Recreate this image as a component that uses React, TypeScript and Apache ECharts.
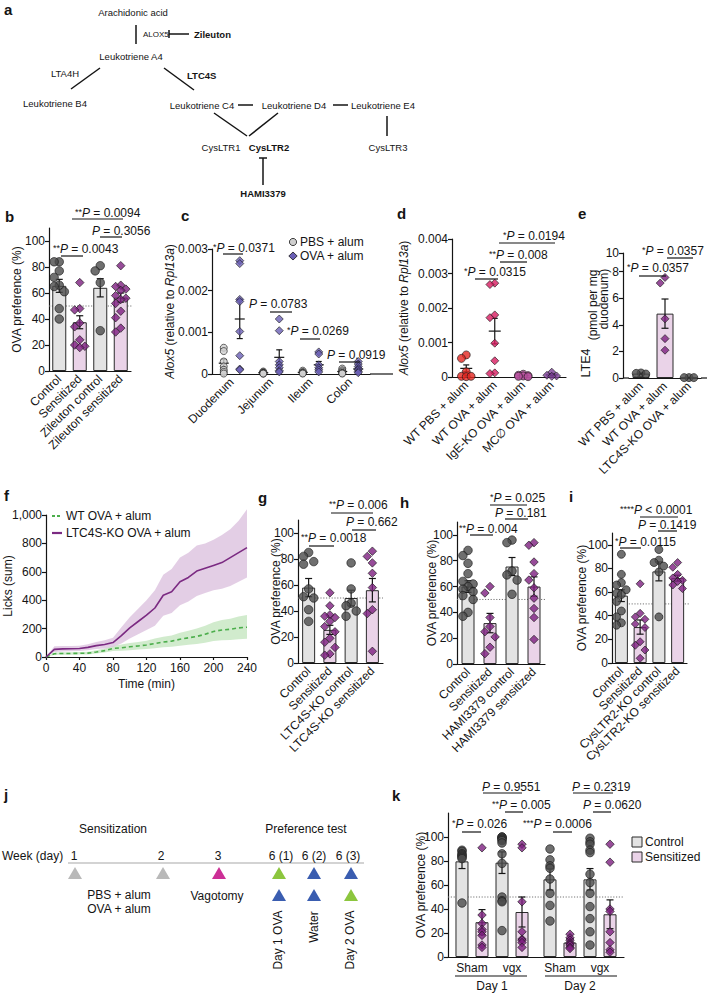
import React, { useEffect, useRef } from 'react';
import * as echarts from 'echarts';

const FONT = '"Liberation Sans", Arial, Helvetica, sans-serif';
const INK = '#141414';
const CTRL_BAR = '#e3e3e3';
const SENS_BAR = '#ead3e8';
const GRAY_DOT = '#4b4b4b';
const PURPLE_DOT = '#7d1f80';
const DOT_EDGE = '#161616';

// ---------- panel b ----------
const bCategories = ['Control', 'Sensitized', 'Zileuton control', 'Zileuton sensitized'];
const bMeans = [65.5, 37.5, 64, 56.5];
const bSem = [5, 5, 7, 3.5];
const bControl = [84, 84, 77, 72, 66, 65, 61, 48, 40];
const bSensitized = [68, 48, 47, 37, 34, 24, 20, 19, 18];
const bZileutonControl = [81, 77, 68, 31];
const bZileutonSensitized = [81, 66, 65, 63, 62, 58, 56, 55, 52, 46, 41, 33, 30];
const prefTicks = [0, 20, 40, 60, 80, 100];

// ---------- panel c ----------
const cCategories = ['Duodenum', 'Jejunum', 'Ileum', 'Colon'];
const cTicks = [0, 0.001, 0.002, 0.003];
const cPbsMeans = [0.00026, 0.00003, 0.00004, 0.00006];
const cPbsSem = [0.00009, 0.00001, 0.00001, 0.00002];
const cOvaMeans = [0.00132, 0.0004, 0.00022, 0.00012];
const cOvaSem = [0.00047, 0.00018, 0.00008, 0.00004];
const cPbsPoints = [
  [0.00063, 0.00055, 0.0003, 0.00018, 0.0001, 0.00005, 0.00001],
  [0.00006, 0.00004, 0.00003, 0.00002, 0.00001, 0.00001],
  [0.00008, 0.00005, 0.00003, 0.00002, 0.00001],
  [0.00013, 0.00009, 0.00006, 0.00003, 0.00002, 0.00001],
];
const cOvaPoints = [
  [0.00272, 0.00265, 0.00179, 0.00174, 0.00102, 0.00044, 0.00012, 0.0001],
  [0.00132, 0.00104, 0.0003, 0.00022, 0.00015, 0.00008, 0.00005],
  [0.00053, 0.00048, 0.00022, 0.00015, 0.0001, 0.00005],
  [0.0003, 0.00024, 0.00018, 0.00013, 0.0001, 0.00006, 0.00003],
];

// ---------- panel d ----------
const dCategories = ['WT PBS + alum', 'WT OVA + alum', 'IgE-KO OVA + alum', 'MC\u2205 OVA + alum'];
const dTicks = [0, 0.001, 0.002, 0.003, 0.004];
const dMeans = [0.00025, 0.00133, 0.00004, 0.00006];
const dSem = [0.0001, 0.00037, 0.00001, 0.00003];
const dPoints = [
  [0.00064, 0.00054, 0.00015, 0.00002, 0.00001, 0.00002],
  [0.00272, 0.00268, 0.0018, 0.00172, 0.00098, 0.00047, 0.00012, 0.0001],
  [0.00008, 0.00005, 0.00004, 0.00003, 0.00002, 0.00001],
  [0.00014, 0.00005, 0.00003, 0.00002],
];

// ---------- panel e ----------
const eCategories = ['WT PBS + alum', 'WT OVA + alum', 'LTC4S-KO OVA + alum'];
const eTicks = [0, 2, 4, 6, 8, 9.4];
const eTickLabels = ['0', '2', '4', '6', '8', '10'];
const eMeans = [0.33, 4.84, 0.03];
const eSem = [0.03, 1.1, 0.01];
const ePoints = [[0.38, 0.35, 0.3], [7.56, 7.14, 4.45, 2.96, 2.09], [0.03, 0.03, 0.03]];

// ---------- panel f ----------
const fTime = [0, 10, 20, 30, 40, 50, 60, 70, 80, 90, 100, 110, 120, 130, 140, 150, 160, 170, 180, 190, 200, 210, 220, 230, 240];
const fKoMean = [0, 54, 57, 58, 60, 68, 80, 88, 102, 150, 205, 250, 295, 345, 435, 460, 530, 560, 605, 625, 645, 665, 700, 735, 770];
const fKoLow = [0, 35, 38, 40, 42, 48, 56, 60, 70, 95, 130, 160, 190, 220, 290, 310, 365, 390, 430, 450, 470, 480, 500, 530, 560];
const fKoHigh = [0, 75, 78, 78, 80, 90, 105, 118, 135, 210, 280, 340, 400, 470, 580, 620, 700, 735, 785, 800, 825, 860, 900, 960, 1040];
const fWtMean = [0, 23, 25, 25, 26, 27, 35, 45, 60, 65, 72, 78, 85, 95, 105, 112, 125, 135, 145, 160, 180, 190, 195, 205, 210];
const fWtLow = [0, 15, 16, 16, 17, 18, 24, 32, 42, 44, 48, 52, 56, 62, 68, 72, 80, 86, 92, 100, 112, 118, 120, 125, 128];
const fWtHigh = [0, 32, 34, 34, 35, 37, 47, 60, 80, 88, 98, 106, 115, 130, 142, 152, 170, 185, 200, 220, 245, 260, 270, 285, 295];
const fTicks = [0, 200, 400, 600, 800, 1000];

// ---------- panel g ----------
const gCategories = ['Control', 'Sensitized', 'LTC4S-KO control', 'LTC4S-KO sensitized'];
const gMeans = [58, 25.5, 50, 56];
const gSem = [7, 3.5, 6, 9];
const gControl = [85, 82, 78, 76, 57, 51, 50, 41, 32];
const gSensitized = [54, 44, 37, 36, 35, 32, 28, 24, 19, 16, 12, 7, 6];
const gKoControl = [77, 57, 46, 44, 40, 36];
const gKoSensitized = [86, 82, 77, 69, 58, 41, 38, 9];

// ---------- panel h ----------
const hCategories = ['Control', 'Sensitized', 'HAMI3379 control', 'HAMI3379 sensitized'];
const hMeans = [60, 31.7, 75.5, 60];
const hSem = [4.5, 7.5, 7, 7.5];
const hControl = [88, 84, 78, 70, 64, 62, 60, 58, 56, 53, 50, 40, 37];
const hSensitized = [60, 55, 36, 29, 25, 21, 13, 8];
const hHamiControl = [96, 94, 72, 69, 65, 54];
const hHamiSensitized = [94, 92, 79, 70, 65, 59, 51, 43, 36, 19];

// ---------- panel i ----------
const iCategories = ['Control', 'Sensitized', 'CysLTR2-KO control', 'CysLTR2-KO sensitized'];
const iMeans = [57, 30.4, 77.5, 71.8];
const iSem = [5, 6, 8, 2.5];
const iControl = [92, 75, 68, 66, 62, 59, 58, 52, 44, 39, 34, 32];
const iSensitized = [67, 42, 39, 37, 33, 30, 18, 15, 11, 4];
const iKoControl = [96, 87, 85, 82, 77, 39];
const iKoSensitized = [85, 81, 75, 72, 70, 69, 66, 63];

// ---------- panel k ----------
const kDays = ['Day 1', 'Day 2'];
const kGroups = ['Sham', 'vgx'];
const kTicks = [0, 20, 40, 60, 80, 100];
const kShamCtrlMeans = [79.7, 64.7];
const kShamCtrlSem = [6, 9];
const kShamSensMeans = [29, 12];
const kShamSensSem = [10.5, 3];
const kVgxCtrlMeans = [78.6, 64.7];
const kVgxCtrlSem = [9, 9];
const kVgxSensMeans = [37.5, 35.6];
const kVgxSensSem = [12.5, 12];
const kShamCtrlPts = [[89, 88, 86, 85, 84, 83, 82, 45], [90, 81, 76, 74, 65, 53, 43, 30]];
const kShamSensPts = [[91, 35, 28, 23, 21, 18, 10, 8], [19, 16, 14, 12, 11, 10, 8, 7]];
const kVgxCtrlPts = [[100, 100, 99, 98, 97, 95, 86, 78, 50, 47, 46, 22], [99, 96, 94, 89, 87, 69, 62, 53, 42, 32, 21, 10]];
const kVgxSensPts = [[94, 91, 46, 21, 15, 14, 12, 8], [94, 79, 40, 38, 21, 12, 6, 4]];

// ---------- significance annotations: stars, rest, textX, textY, lineX1, lineX2, lineY ----------
const annotations: any[] = [
  ['**', ' = 0.0094', 75, 213, 72, 123, 219],
  ['', ' = 0.3056', 92, 231, 100, 122, 237],
  ['**', ' = 0.0043', 53, 249, 61, 83, 256],
  ['*', ' = 0.0371', 213, 248, 223, 243, 254],
  ['', ' = 0.0783', 249, 304, 270, 292, 312],
  ['*', ' = 0.0269', 287, 331, 300, 320, 339],
  ['', ' = 0.0919', 327, 355, 339, 360, 362],
  ['*', ' = 0.0194', 503, 236, 499, 555, 243],
  ['**', ' = 0.008', 489, 255, 500, 527, 262],
  ['*', ' = 0.0315', 464, 272, 475, 498, 279],
  ['*', ' = 0.0357', 642, 251, 667, 693, 258],
  ['*', ' = 0.0357', 627, 268, 639, 666, 276],
  ['**', ' = 0.006', 329, 505, 331, 373, 513],
  ['', ' = 0.662', 346, 522, 352, 376, 530],
  ['**', ' = 0.0018', 301, 538, 309, 334, 546],
  ['*', ' = 0.025', 490, 498, 490, 527, 505],
  ['', ' = 0.181', 495, 513, 505, 528, 519],
  ['**', ' = 0.004', 459, 529, 470, 493, 535],
  ['****', ' < 0.0001', 620, 510, 640, 678, 517],
  ['', ' = 0.1419', 638, 525, 658, 677, 531],
  ['*', ' = 0.0115', 615, 542, 620, 641, 548],
  ['', ' = 0.9551', 482, 787, 483, 522, 793],
  ['**', ' = 0.005', 492, 805, 505, 523, 812],
  ['*', ' = 0.026', 452, 824, 462, 481, 832],
  ['***', ' = 0.0006', 523, 824, 553, 572, 832],
  ['', ' = 0.2319', 572, 787, 573, 613, 793],
  ['', ' = 0.0620', 583, 805, 593, 611, 812],
];

// ---------- panel j timeline ----------
const jWeekLabels = ['1', '2', '3', '6 (1)', '6 (2)', '6 (3)'];
const jWeekX = [74, 161, 218, 281, 314, 348];
const jTopTriangles: any[] = [['#b9b9b9', 75], ['#b9b9b9', 163], ['#cc2f96', 219], ['#8cc63e', 279], ['#3a5db0', 314], ['#3a5db0', 351]];
const jBottomTriangles: any[] = [['#3a5db0', 279], ['#3a5db0', 314], ['#8cc63e', 351]];

function swarm(vals: number[], ppu: number, size: number, maxOff: number): number[] {
  const order = vals.map((_, i) => i).sort((a, b) => vals[b] - vals[a]);
  const placed: number[][] = [];
  const out: number[] = vals.map(() => 0);
  const step = size * 0.6;
  const minD = size * 0.92;
  for (const i of order) {
    const y = vals[i] * ppu;
    let bestX = 0;
    let bestD = -1;
    for (let k = 0; k < 20; k++) {
      const mag = Math.ceil(k / 2) * step;
      if (mag > maxOff) break;
      const c = k === 0 ? 0 : k % 2 === 1 ? -mag : mag;
      let d = Infinity;
      for (const p of placed) d = Math.min(d, Math.hypot(p[0] - c, p[1] - y));
      if (d >= minD) { bestX = c; bestD = d; break; }
      if (d > bestD) { bestD = d; bestX = c; }
    }
    out[i] = bestX;
    placed.push([bestX, y]);
  }
  return out;
}

function buildOption() {
  const grid: any[] = [];
  const xAxis: any[] = [];
  const yAxis: any[] = [];
  const series: any[] = [];
  const graphic: any[] = [];
  const axisLineStyle = { color: INK, width: 1.2 };
  const tickText = { fontSize: 12, color: INK, fontFamily: FONT };

  const txt = (text: string, x: number, y: number, o: any = {}) => ({
    type: 'text', x, y, z: 20, silent: true,
    style: { text, fill: INK, fontFamily: FONT, fontSize: 12, align: 'left', verticalAlign: 'middle', ...o },
  });
  const seg = (x1: number, y1: number, x2: number, y2: number, o: any = {}) => ({
    type: 'line', z: 20, silent: true, shape: { x1, y1, x2, y2 }, style: { stroke: INK, lineWidth: 1.2, ...o },
  });

  const addGrid = (g: any) => { grid.push({ ...g, containLabel: false, outerBoundsMode: 'none' }); return grid.length - 1; };
  const catAxis = (gi: number, cats: string[], labelExtra: any = {}) => {
    xAxis.push({
      gridIndex: gi, type: 'category', data: cats, boundaryGap: true,
      axisLine: { show: true, lineStyle: axisLineStyle }, axisTick: { show: false },
      axisLabel: { interval: 0, rotate: 45, margin: 6, ...tickText, ...labelExtra },
      splitLine: { show: false },
    });
  };
  const valAxis = (gi: number, max: number, ticks: number[], name: string, nameGap: number, o: any = {}) => {
    yAxis.push({
      gridIndex: gi, type: 'value', min: 0, max, offset: o.offset || 0,
      axisLine: { show: true, lineStyle: axisLineStyle },
      axisTick: { show: true, length: 4, customValues: ticks, lineStyle: axisLineStyle },
      axisLabel: { customValues: ticks, margin: 4, ...tickText, formatter: o.formatter },
      splitLine: { show: false },
      name, nameLocation: 'middle', nameGap, nameMoveOverlap: false,
      nameTextStyle: { fontSize: 12, color: INK, fontFamily: FONT, rich: o.rich },
    });
  };
  const addRef = (gi: number, value: number, extend = 0) => {
    series.push({
      type: 'custom', xAxisIndex: gi, yAxisIndex: gi, z: 1, silent: true, clip: false, data: [[0, value]],
      renderItem: (params: any, api: any) => {
        const cs = params.coordSys;
        const y = api.coord([0, api.value(1)])[1];
        return { type: 'line', shape: { x1: cs.x, y1: y, x2: cs.x + cs.width + extend, y2: y }, style: { stroke: '#777', lineWidth: 1, lineDash: [1.2, 1.6] } };
      },
    });
  };
  const addBars = (gi: number, means: number[], fills: string[], barWidth: number, extra: any = {}) => {
    series.push({
      type: 'bar', xAxisIndex: gi, yAxisIndex: gi, barWidth, z: 2, silent: true,
      data: means.map((m, i) => ({ value: m, itemStyle: { color: fills[i], borderColor: '#2b2b2b', borderWidth: 1 } })),
      ...extra,
    });
  };
  const addErr = (gi: number, means: number[], sems: number[], offset: number, cap: number, meanHalf: number) => {
    series.push({
      type: 'custom', xAxisIndex: gi, yAxisIndex: gi, z: 4, silent: true, clip: false,
      data: means.map((m, i) => [i, m, sems[i]]),
      renderItem: (params: any, api: any) => {
        const i = api.value(0), m = api.value(1), s = api.value(2);
        const pm = api.coord([i, m]);
        const ph = api.coord([i, m + s]);
        const pl = api.coord([i, Math.max(0, m - s)]);
        const cx = pm[0] + offset;
        const style = { stroke: INK, lineWidth: 1.2, fill: 'none' };
        const ch: any[] = [
          { type: 'line', shape: { x1: cx, y1: pl[1], x2: cx, y2: ph[1] }, style },
          { type: 'line', shape: { x1: cx - cap, y1: ph[1], x2: cx + cap, y2: ph[1] }, style },
          { type: 'line', shape: { x1: cx - cap, y1: pl[1], x2: cx + cap, y2: pl[1] }, style },
        ];
        if (meanHalf) ch.push({ type: 'line', shape: { x1: cx - meanHalf, y1: pm[1], x2: cx + meanHalf, y2: pm[1] }, style });
        return { type: 'group', children: ch };
      },
    });
  };
  const addDots = (gi: number, pts: number[][], styles: any[], ppu: number, baseOff: number, maxOff: number, size: number) => {
    const data: any[] = [];
    pts.forEach((vals, ci) => {
      const offs = swarm(vals, ppu, size, maxOff);
      const st = styles[ci];
      vals.forEach((v, k) => data.push({
        value: [ci, v], symbol: st.symbol, symbolOffset: [baseOff + offs[k], 0],
        itemStyle: { color: st.color, borderColor: DOT_EDGE, borderWidth: 0.8 },
      }));
    });
    series.push({ type: 'scatter', xAxisIndex: gi, yAxisIndex: gi, symbolSize: size, data, z: 5, silent: true, clip: false });
  };

  const grayC = { symbol: 'circle', color: GRAY_DOT };
  const purpD = { symbol: 'diamond', color: PURPLE_DOT };
  const prefStyles = [grayC, purpD, grayC, purpD];
  const prefFills = [CTRL_BAR, SENS_BAR, CTRL_BAR, SENS_BAR];
  const smallFmt = (v: number) => (v === 0 ? '0' : v.toFixed(3));
  const aloxName = '{i|Alox5} (relative to {i|Rpl13a})';
  const aloxRich = { i: { fontStyle: 'italic', fontSize: 12, color: INK, fontFamily: FONT } };

  // ---- b ----
  {
    const g = { left: 49, top: 228, width: 82, height: 143 };
    const gi = addGrid(g);
    catAxis(gi, bCategories);
    valAxis(gi, 110, prefTicks, 'OVA preference (%)', 26);
    addRef(gi, 50, 2);
    addBars(gi, bMeans, prefFills, 14);
    addErr(gi, bMeans, bSem, 0, 3.5, 0);
    addDots(gi, [bControl, bSensitized, bZileutonControl, bZileutonSensitized], prefStyles, g.height / 110, 0, 6, 8.5);
  }
  // ---- c ----
  {
    const g = { left: 212, top: 249, width: 158, height: 125 };
    const gi = addGrid(g);
    catAxis(gi, cCategories);
    valAxis(gi, 0.003, cTicks, aloxName, 36, { formatter: smallFmt, rich: aloxRich });
    const ppu = g.height / 0.003;
    addErr(gi, cPbsMeans, cPbsSem, -8, 3, 5);
    addErr(gi, cOvaMeans, cOvaSem, 8, 3, 5);
    addDots(gi, cPbsPoints, cCategories.map(() => ({ symbol: 'circle', color: '#cfcfcf' })), ppu, -8, 4, 7);
    addDots(gi, cOvaPoints, cCategories.map(() => ({ symbol: 'diamond', color: '#6a5fb5' })), ppu, 8, 4, 8);
    graphic.push(seg(370, 374, 393, 374));
  }
  // ---- d ----
  {
    const g = { left: 452, top: 239, width: 114, height: 138 };
    const gi = addGrid(g);
    catAxis(gi, dCategories);
    valAxis(gi, 0.004, dTicks, aloxName, 42, { formatter: smallFmt, rich: aloxRich });
    addErr(gi, dMeans, dSem, 0, 3, 6);
    addDots(gi, dPoints, [
      { symbol: 'circle', color: '#e3261f' },
      { symbol: 'diamond', color: '#d81b60' },
      { symbol: 'circle', color: '#b7509e' },
      { symbol: 'diamond', color: '#7a3d96' },
    ], g.height / 0.004, 0, 9, 8);
  }
  // ---- e ----
  {
    const g = { left: 629, top: 253, width: 72, height: 125 };
    const gi = addGrid(g);
    catAxis(gi, eCategories);
    valAxis(gi, 9.4, eTicks, '', 0, { offset: 6, formatter: (v: number) => { const k = eTicks.indexOf(v); return k >= 0 ? eTickLabels[k] : String(v); } });
    addBars(gi, eMeans, [CTRL_BAR, SENS_BAR, CTRL_BAR], 17);
    addErr(gi, eMeans, eSem, 0, 3.5, 0);
    addDots(gi, ePoints, [grayC, purpD, grayC], g.height / 9.4, 0, 7, 8);
    graphic.push(seg(623, 378, 629, 378), seg(701, 378, 707, 378));
    const t1: any = txt('LTE4', 586, 363, { align: 'center', fontSize: 12.5 });
    const t2: any = txt('(pmol per mg', 593, 305, { align: 'center' });
    const t3: any = txt('duodenum)', 604, 299, { align: 'center' });
    t1.rotation = Math.PI / 2;
    t2.rotation = Math.PI / 2;
    t3.rotation = Math.PI / 2;
    graphic.push(t1, t2, t3);
  }
  // ---- f ----
  {
    const gi = addGrid({ left: 46, top: 515, width: 201, height: 142 });
    xAxis.push({
      gridIndex: gi, type: 'category', data: fTime.map(String), boundaryGap: false,
      axisLine: { show: true, lineStyle: axisLineStyle },
      axisTick: { show: true, interval: 3, length: 3, lineStyle: axisLineStyle },
      axisLabel: { interval: 3, margin: 5, ...tickText },
      splitLine: { show: false },
      name: 'Time (min)', nameLocation: 'middle', nameGap: 21, nameMoveOverlap: false,
      nameTextStyle: { fontSize: 12, color: INK, fontFamily: FONT },
    });
    yAxis.push({
      gridIndex: gi, type: 'value', min: 0, max: 1000, interval: 200,
      axisLine: { show: true, lineStyle: axisLineStyle },
      axisTick: { show: true, length: 4, customValues: fTicks, lineStyle: axisLineStyle },
      axisLabel: { customValues: fTicks, margin: 4, ...tickText, formatter: (v: number) => v.toLocaleString('en-US') },
      splitLine: { show: false },
      name: 'Licks (sum)', nameLocation: 'middle', nameGap: 32, nameMoveOverlap: false,
      nameTextStyle: { fontSize: 12, color: INK, fontFamily: FONT },
    });
    const base = { xAxisIndex: gi, yAxisIndex: gi, type: 'line', symbol: 'none', silent: true, clip: false };
    series.push(
      { ...base, data: fWtLow, stack: 'wtBand', lineStyle: { opacity: 0 }, z: 1 },
      { ...base, data: fWtHigh.map((h, i) => h - fWtLow[i]), stack: 'wtBand', lineStyle: { opacity: 0 }, areaStyle: { color: '#c9e8c4', opacity: 0.85 }, z: 1 },
      { ...base, data: fKoLow, stack: 'koBand', lineStyle: { opacity: 0 }, z: 1 },
      { ...base, data: fKoHigh.map((h, i) => h - fKoLow[i]), stack: 'koBand', lineStyle: { opacity: 0 }, areaStyle: { color: '#dcc2df', opacity: 0.8 }, z: 1 },
      { ...base, data: fWtMean, lineStyle: { color: '#4cae4c', width: 1.6, type: [4, 3] }, z: 3 },
      { ...base, data: fKoMean, lineStyle: { color: '#7b2a82', width: 1.6 }, z: 3 },
    );
    graphic.push(
      seg(52, 516, 62, 516, { stroke: '#4cae4c', lineWidth: 2, lineDash: [3, 2] }),
      txt('WT OVA + alum', 66, 516),
      seg(52, 533, 62, 533, { stroke: '#7b2a82', lineWidth: 2.2 }),
      txt('LTC4S-KO OVA + alum', 66, 533),
    );
  }
  // ---- g ----
  {
    const g = { left: 298, top: 520, width: 85, height: 143 };
    const gi = addGrid(g);
    catAxis(gi, gCategories);
    valAxis(gi, 110, prefTicks, 'OVA preference (%)', 16);
    addRef(gi, 50, 0);
    addBars(gi, gMeans, prefFills, 13);
    addErr(gi, gMeans, gSem, 0, 3.5, 0);
    addDots(gi, [gControl, gSensitized, gKoControl, gKoSensitized], prefStyles, g.height / 110, 0, 6, 8.5);
  }
  // ---- h ----
  {
    const g = { left: 457, top: 522, width: 88, height: 142 };
    const gi = addGrid(g);
    catAxis(gi, hCategories);
    valAxis(gi, 110, prefTicks, 'OVA preference (%)', 19);
    addRef(gi, 50, 0);
    addBars(gi, hMeans, prefFills, 13);
    addErr(gi, hMeans, hSem, 0, 3.5, 0);
    addDots(gi, [hControl, hSensitized, hHamiControl, hHamiSensitized], prefStyles, g.height / 110, 0, 6, 8.5);
  }
  // ---- i ----
  {
    const g = { left: 612, top: 533, width: 75, height: 130 };
    const gi = addGrid(g);
    catAxis(gi, iCategories);
    valAxis(gi, 110, prefTicks, 'OVA preference (%)', 24);
    addRef(gi, 50, 3);
    addBars(gi, iMeans, prefFills, 13);
    addErr(gi, iMeans, iSem, 0, 3.5, 0);
    addDots(gi, [iControl, iSensitized, iKoControl, iKoSensitized], prefStyles, g.height / 110, 0, 5, 8);
  }
  // ---- k ----
  {
    const g = { left: 448, top: 813, width: 176, height: 144 };
    const gi = addGrid(g);
    catAxis(gi, kDays, {
      rotate: 0, margin: 3,
      formatter: (v: string) => `{g|${kGroups[0]}}{g|${kGroups[1]}}\n{d|${v}}`,
      rich: {
        g: { width: 40, align: 'center', fontSize: 12, lineHeight: 16, fontFamily: FONT, color: INK },
        d: { fontSize: 12, lineHeight: 20, fontFamily: FONT, color: INK, align: 'center' },
      },
    });
    valAxis(gi, 120, kTicks, 'OVA preference (%)', 21);
    addRef(gi, 50, 0);
    const groups = [
      [kShamCtrlMeans, kShamCtrlSem, kShamCtrlPts, CTRL_BAR, grayC, -30],
      [kShamSensMeans, kShamSensSem, kShamSensPts, SENS_BAR, purpD, -10],
      [kVgxCtrlMeans, kVgxCtrlSem, kVgxCtrlPts, CTRL_BAR, grayC, 10],
      [kVgxSensMeans, kVgxSensSem, kVgxSensPts, SENS_BAR, purpD, 30],
    ];
    groups.forEach((gr: any) => addBars(gi, gr[0], [gr[3], gr[3]], 13, { barGap: '54%' }));
    groups.forEach((gr: any) => addErr(gi, gr[0], gr[1], gr[5], 3.5, 0));
    groups.forEach((gr: any) => addDots(gi, gr[2], [gr[4], gr[4]], g.height / 120, gr[5], 5, 8.5));
    graphic.push(seg(455, 976, 527, 976), seg(545, 976, 617, 976));
    graphic.push(
      { type: 'rect', z: 20, shape: { x: 632, y: 837, width: 10, height: 10 }, style: { fill: CTRL_BAR, stroke: '#2b2b2b', lineWidth: 1 } },
      txt('Control', 645, 842),
      { type: 'rect', z: 20, shape: { x: 632, y: 852, width: 10, height: 10 }, style: { fill: SENS_BAR, stroke: '#2b2b2b', lineWidth: 1 } },
      txt('Sensitized', 645, 857),
    );
  }

  // ---- c legend ----
  graphic.push(
    { type: 'circle', z: 20, shape: { cx: 293, cy: 242, r: 3.6 }, style: { fill: '#cfcfcf', stroke: DOT_EDGE, lineWidth: 0.8 } },
    txt('PBS + alum', 300, 242),
    { type: 'polygon', z: 20, shape: { points: [[293, 252], [297.2, 256], [293, 260], [288.8, 256]] }, style: { fill: '#6a5fb5', stroke: DOT_EDGE, lineWidth: 0.8 } },
    txt('OVA + alum', 300, 256),
  );

  // ---- annotations ----
  const rich = {
    s: { fontSize: 9, fontFamily: FONT, fill: INK, verticalAlign: 'top', lineHeight: 11 },
    p: { fontSize: 12, fontStyle: 'italic', fontFamily: FONT, fill: INK, lineHeight: 11 },
    n: { fontSize: 12, fontFamily: FONT, fill: INK, lineHeight: 11 },
  };
  annotations.forEach((a) => {
    const [stars, rest, tx, ty, x1, x2, ly] = a;
    graphic.push({
      type: 'text', x: tx, y: ty, z: 21, silent: true,
      style: { text: (stars ? `{s|${stars}}` : '') + `{p|P}{n|${rest}}`, rich, align: 'left', verticalAlign: 'middle', fontFamily: FONT, fontSize: 12, lineHeight: 11 },
    });
    graphic.push(seg(x1, ly, x2, ly));
  });

  // ---- panel letters ----
  const letters: any[] = [['a', 4, 9], ['b', 5, 216], ['c', 181, 215], ['d', 397, 213], ['e', 578, 213], ['f', 4, 495], ['g', 258, 497], ['h', 400, 502], ['i', 569, 496], ['j', 4, 794], ['k', 392, 795]];
  letters.forEach(([l, x, y]) => graphic.push(txt(l, x, y, { fontWeight: 'bold', fontSize: 15 })));

  // ---- panel a pathway ----
  const A = 9.5;
  const ac = (t: string, x: number, y: number, bold = false) => txt(t, x, y, { align: 'center', fontSize: A, fontWeight: bold ? 'bold' : 'normal' });
  const al = (t: string, x: number, y: number, bold = false, fs = A) => txt(t, x, y, { align: 'left', fontSize: fs, fontWeight: bold ? 'bold' : 'normal' });
  const lw = { lineWidth: 1.5 };
  graphic.push(
    ac('Arachidonic acid', 133, 12),
    seg(136, 25, 136, 44, lw),
    al('ALOX5', 143, 34, false, 8),
    seg(169, 30, 169, 38, lw),
    seg(169, 34, 189, 34, lw),
    al('Zileuton', 194, 34, true),
    ac('Leukotriene A4', 131, 56),
    ac('LTA4H', 65, 73),
    seg(100, 68, 71, 89, lw),
    ac('Leukotriene B4', 55, 103),
    seg(164, 68, 194, 90, lw),
    al('LTC4S', 187, 75, true),
    ac('Leukotriene C4', 202, 105),
    seg(238, 105, 253, 105, lw),
    ac('Leukotriene D4', 294, 105),
    seg(333, 105, 348, 105, lw),
    ac('Leukotriene E4', 383, 105),
    seg(214, 113, 247, 136, lw),
    seg(278, 113, 249, 136, lw),
    ac('CysLTR1', 221, 147),
    ac('CysLTR2', 269, 147, true),
    seg(259, 158, 267, 158, lw),
    seg(263, 158, 263, 185, lw),
    ac('HAMI3379', 263, 193, true),
    seg(387, 116, 387, 136, lw),
    ac('CysLTR3', 388, 147),
  );

  // ---- panel j timeline ----
  graphic.push(
    txt('Sensitization', 113, 829, { align: 'center' }),
    txt('Preference test', 306, 829, { align: 'center' }),
    txt('Week (day)', 2, 856),
    seg(68, 863, 364, 863, { stroke: '#c4c4c4', lineWidth: 1.6 }),
    txt('PBS + alum', 119, 895, { align: 'center' }),
    txt('OVA + alum', 119, 909, { align: 'center' }),
    txt('Vagotomy', 217, 896, { align: 'center' }),
  );
  jWeekLabels.forEach((w, i) => graphic.push(txt(w, jWeekX[i], 856, { align: 'center' })));
  const tri = (color: string, cx: number, cy: number) => ({
    type: 'polygon', z: 20, silent: true,
    shape: { points: [[cx - 7, cy + 6], [cx + 7, cy + 6], [cx, cy - 6]] }, style: { fill: color },
  });
  jTopTriangles.forEach(([c, x]) => graphic.push(tri(c, x, 873)));
  jBottomTriangles.forEach(([c, x]) => graphic.push(tri(c, x, 895)));
  const rot: any[] = [['Day 1 OVA', 278, 940], ['Water', 314, 927], ['Day 2 OVA', 350, 940]];
  rot.forEach(([t, x, y]) => { const e: any = txt(t, x, y, { align: 'center' }); e.rotation = Math.PI / 2; graphic.push(e); });

  return {
    animation: false,
    backgroundColor: '#ffffff',
    textStyle: { fontFamily: FONT },
    grid, xAxis, yAxis, series,
    graphic: { elements: graphic },
  };
}

export default function App() {
  const ref = useRef<HTMLDivElement>(null);
  useEffect(() => {
    const chart = echarts.init(ref.current as HTMLDivElement, null, { renderer: 'svg' });
    chart.setOption(buildOption() as any);
    return () => chart.dispose();
  }, []);
  return <div ref={ref} style={{ position: 'absolute', left: 0, top: 0, width: 708, height: 993, background: '#fff' }} />;
}
